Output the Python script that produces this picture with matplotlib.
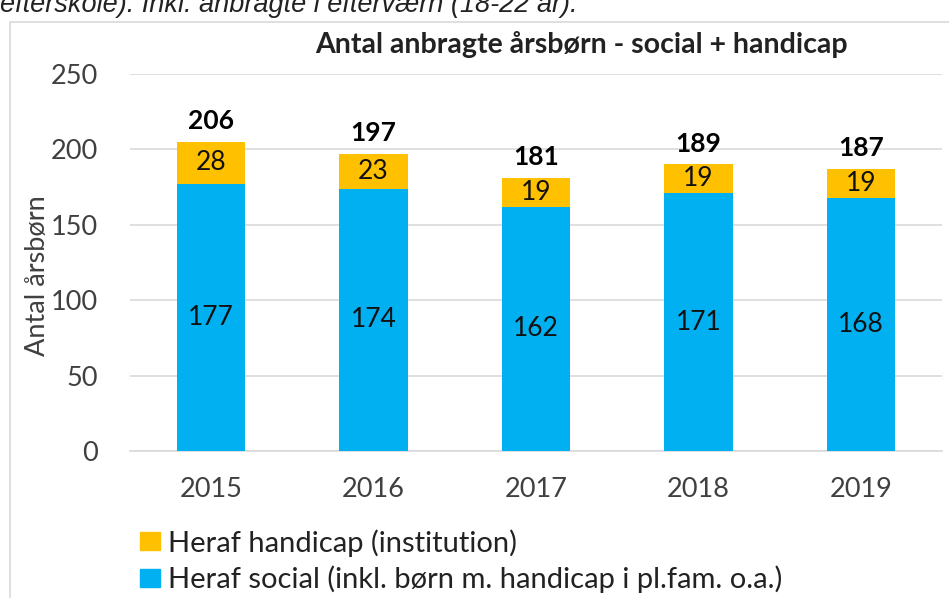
import matplotlib
matplotlib.use("Agg")
import matplotlib.pyplot as plt
from matplotlib.patches import Rectangle, Patch

years = ["2015", "2016", "2017", "2018", "2019"]
social = [177, 174, 162, 171, 168]
handicap = [28, 23, 19, 19, 19]
totals = [206, 197, 181, 189, 187]

BLUE = "#00B0F0"
ORANGE = "#FFC000"

plt.rcParams["font.family"] = ["Lato", "DejaVu Sans"]

fig = plt.figure(figsize=(9.49, 5.98), dpi=100)
ax = fig.add_axes([130 / 949, 1 - 451 / 598, 812 / 949, 377 / 598])

# chart frame (cut off at right/bottom like the screenshot)
fig.add_artist(Rectangle((10 / 949, -0.1), 1.2, 1.1 - 22 / 598, transform=fig.transFigure,
                         fill=False, ec="#D9D9D9", lw=1.2))

# clipped caption line from the page above the chart
fig.text(0.0, 1 - 12 / 598, "efterskole). Inkl. anbragte i efterværn (18-22 år).",
         fontsize=19.5, style="italic", family=["Liberation Sans", "DejaVu Sans"],
         ha="left", va="baseline", color="#222222")

x = range(len(years))
w = 0.42
ax.bar(x, social, width=w, color=BLUE, zorder=3)
ax.bar(x, handicap, width=w, bottom=social, color=ORANGE, zorder=3)

for i in x:
    ax.text(i, social[i] / 2, str(social[i]), ha="center", va="center", fontsize=19,
            color="#111111", zorder=4)
    ax.text(i, social[i] + handicap[i] / 2, str(handicap[i]), ha="center", va="center",
            fontsize=19, color="#111111", zorder=4)
    ax.annotate(str(totals[i]), (i, social[i] + handicap[i]), xytext=(0, 15),
                textcoords="offset points", ha="center", va="center",
                fontsize=19, fontweight="bold", color="black", zorder=4)

ax.set_xlim(-0.5, len(years) - 0.5)
ax.set_ylim(0, 250)
ax.set_yticks(range(0, 251, 50))
ax.set_xticks(list(x))
ax.set_xticklabels(years)
ax.tick_params(axis="both", length=0, labelsize=19.5, labelcolor="#404040")
ax.tick_params(axis="y", pad=23)
ax.tick_params(axis="x", pad=19)
ax.grid(axis="y", color="#D9D9D9", lw=1.2, zorder=0)
for s in ax.spines.values():
    s.set_visible(False)
ax.spines["bottom"].set_visible(True)
ax.spines["bottom"].set_color("#D9D9D9")
ax.spines["bottom"].set_linewidth(1.2)

fig.text(38 / 949, 1 - 276 / 598, "Antal årsbørn", rotation=90, ha="center", va="center",
         fontsize=19.5, color="#404040")
fig.text(581 / 949, 1 - 45 / 598, "Antal anbragte årsbørn - social + handicap",
         ha="center", va="center", fontsize=20.5, fontweight="bold", color="#222222")

handles = [Patch(color=ORANGE, label="Heraf handicap (institution)"),
           Patch(color=BLUE, label="Heraf social (inkl. børn m. handicap i pl.fam. o.a.)")]
fig.legend(handles=handles, loc="upper left", bbox_to_anchor=(140 / 949, 1 - 529 / 598),
           frameon=False, fontsize=21, handlelength=0.7, handleheight=0.56,
           handletextpad=0.25, labelspacing=0.3, borderaxespad=0, borderpad=0,
           labelcolor="#222222")

plt.savefig("out.png", dpi=100)
plt.close(fig)
